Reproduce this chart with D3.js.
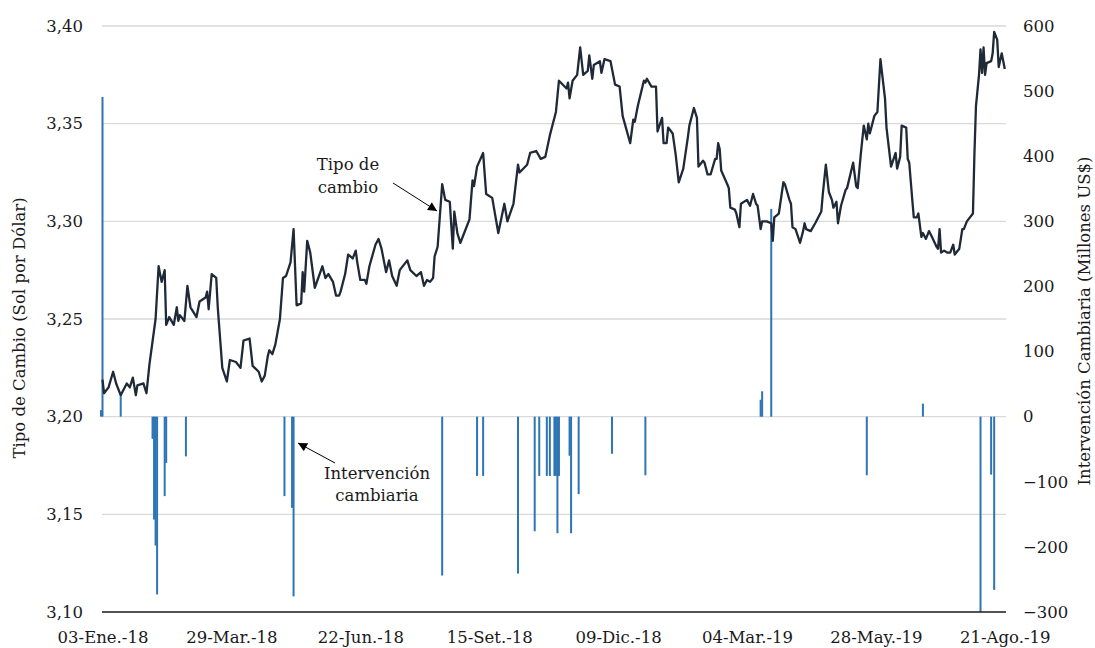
<!DOCTYPE html>
<html>
<head>
<meta charset="utf-8">
<script src="https://cdn.jsdelivr.net/npm/d3@7"></script>
<style>
  body { margin: 0; background: #fff; }
  svg text { font-family: "DejaVu Serif", serif; fill: #1a1a1a; }
</style>
</head>
<body>
<svg width="1095" height="648"></svg>
<script>
// tipo de cambio (S/ por US$)
var fxDates = [
  "2018-01-03","2018-01-04","2018-01-07","2018-01-10","2018-01-12","2018-01-15","2018-01-19","2018-01-21","2018-01-23","2018-01-25",
  "2018-01-26","2018-01-30","2018-02-01","2018-02-03","2018-02-07","2018-02-09","2018-02-11","2018-02-13","2018-02-14","2018-02-16",
  "2018-02-19","2018-02-21","2018-02-22","2018-02-23","2018-02-26","2018-02-28","2018-03-02","2018-03-06","2018-03-08","2018-03-12",
  "2018-03-13","2018-03-14","2018-03-16","2018-03-19","2018-03-20","2018-03-23","2018-03-26","2018-03-28","2018-04-01","2018-04-04",
  "2018-04-06","2018-04-10","2018-04-12","2018-04-16","2018-04-18","2018-04-20","2018-04-22","2018-04-23","2018-04-25","2018-04-27",
  "2018-04-30","2018-05-02","2018-05-04","2018-05-07","2018-05-09","2018-05-11","2018-05-14","2018-05-15","2018-05-16","2018-05-18",
  "2018-05-20","2018-05-23","2018-05-28","2018-05-30","2018-06-01","2018-06-04","2018-06-06","2018-06-08","2018-06-09","2018-06-12",
  "2018-06-14","2018-06-17","2018-06-19","2018-06-20","2018-06-22","2018-06-25","2018-06-26","2018-06-28","2018-07-02","2018-07-04",
  "2018-07-06","2018-07-09","2018-07-11","2018-07-13","2018-07-16","2018-07-18","2018-07-23","2018-07-25","2018-07-29","2018-08-01",
  "2018-08-03","2018-08-05","2018-08-07","2018-08-09","2018-08-10","2018-08-12","2018-08-15","2018-08-17","2018-08-20","2018-08-22",
  "2018-08-23","2018-08-25","2018-08-27","2018-08-29","2018-09-02","2018-09-04","2018-09-05","2018-09-07","2018-09-11","2018-09-13",
  "2018-09-17","2018-09-21","2018-09-25","2018-09-27","2018-10-01","2018-10-04","2018-10-05","2018-10-10","2018-10-12","2018-10-16",
  "2018-10-19","2018-10-22","2018-10-25","2018-10-29","2018-10-31","2018-11-05","2018-11-06","2018-11-07","2018-11-09","2018-11-12",
  "2018-11-14","2018-11-16","2018-11-19","2018-11-20","2018-11-22","2018-11-23","2018-11-27","2018-11-28","2018-11-30","2018-12-04",
  "2018-12-07","2018-12-10","2018-12-12","2018-12-17","2018-12-19","2018-12-20","2018-12-22","2018-12-26","2018-12-27","2018-12-28",
  "2018-12-31","2019-01-03","2019-01-04","2019-01-07","2019-01-08","2019-01-10","2019-01-11","2019-01-14","2019-01-16","2019-01-18",
  "2019-01-21","2019-01-24","2019-01-25","2019-01-28","2019-01-30","2019-01-31","2019-02-03","2019-02-04","2019-02-06","2019-02-08",
  "2019-02-11","2019-02-12","2019-02-13","2019-02-14","2019-02-15","2019-02-19","2019-02-20","2019-02-21","2019-02-24","2019-02-25",
  "2019-02-27","2019-02-28","2019-03-04","2019-03-06","2019-03-08","2019-03-10","2019-03-11","2019-03-13","2019-03-14","2019-03-17",
  "2019-03-20","2019-03-21","2019-03-22","2019-03-25","2019-03-28","2019-03-29","2019-04-01","2019-04-02","2019-04-03","2019-04-05",
  "2019-04-08","2019-04-10","2019-04-11","2019-04-12","2019-04-15","2019-04-18","2019-04-22","2019-04-23","2019-04-25","2019-04-27",
  "2019-04-29","2019-04-30","2019-05-02","2019-05-03","2019-05-05","2019-05-08","2019-05-09","2019-05-13","2019-05-15","2019-05-16",
  "2019-05-18","2019-05-20","2019-05-22","2019-05-23","2019-05-24","2019-05-27","2019-05-29","2019-05-31","2019-06-03","2019-06-04",
  "2019-06-07","2019-06-10","2019-06-11","2019-06-13","2019-06-14","2019-06-17","2019-06-18","2019-06-19","2019-06-21","2019-06-22",
  "2019-06-24","2019-06-25","2019-06-27","2019-06-28","2019-06-30","2019-07-02","2019-07-04","2019-07-07","2019-07-08","2019-07-09",
  "2019-07-10","2019-07-12","2019-07-14","2019-07-16","2019-07-18","2019-07-19","2019-07-22","2019-07-24","2019-07-25","2019-07-27",
  "2019-07-31","2019-08-01","2019-08-02","2019-08-04","2019-08-05","2019-08-06","2019-08-07","2019-08-08","2019-08-09","2019-08-12",
  "2019-08-13","2019-08-14","2019-08-16","2019-08-17","2019-08-19","2019-08-21"
];
var fxValues = [
  3.219,3.212,3.215,3.223,3.217,3.211,3.217,3.215,3.220,3.211,
  3.216,3.217,3.212,3.227,3.250,3.277,3.269,3.275,3.247,3.251,
  3.247,3.256,3.249,3.252,3.249,3.267,3.256,3.251,3.259,3.261,
  3.264,3.255,3.273,3.271,3.256,3.225,3.218,3.229,3.228,3.225,
  3.239,3.240,3.226,3.223,3.218,3.221,3.231,3.234,3.232,3.237,
  3.250,3.271,3.272,3.279,3.296,3.257,3.258,3.274,3.264,3.290,
  3.284,3.266,3.277,3.271,3.273,3.269,3.262,3.262,3.264,3.273,
  3.283,3.281,3.285,3.279,3.270,3.270,3.268,3.277,3.288,3.291,
  3.286,3.274,3.280,3.272,3.267,3.275,3.280,3.275,3.272,3.274,
  3.267,3.270,3.269,3.271,3.282,3.287,3.319,3.311,3.310,3.286,
  3.305,3.294,3.289,3.293,3.301,3.321,3.318,3.328,3.335,3.314,
  3.312,3.294,3.309,3.300,3.309,3.329,3.325,3.329,3.335,3.336,
  3.332,3.333,3.344,3.356,3.372,3.368,3.371,3.363,3.372,3.375,
  3.389,3.375,3.377,3.385,3.373,3.380,3.382,3.376,3.383,3.382,
  3.370,3.369,3.354,3.340,3.352,3.351,3.359,3.372,3.371,3.373,
  3.369,3.369,3.346,3.353,3.340,3.340,3.348,3.345,3.334,3.320,
  3.327,3.343,3.349,3.358,3.353,3.328,3.331,3.330,3.324,3.324,
  3.332,3.332,3.340,3.337,3.326,3.319,3.317,3.307,3.306,3.304,
  3.297,3.309,3.311,3.308,3.314,3.309,3.308,3.296,3.300,3.300,
  3.299,3.290,3.302,3.304,3.320,3.319,3.311,3.309,3.297,3.296,
  3.289,3.295,3.299,3.296,3.295,3.299,3.305,3.314,3.329,3.315,
  3.311,3.307,3.310,3.299,3.308,3.316,3.317,3.330,3.318,3.317,
  3.334,3.349,3.342,3.350,3.345,3.354,3.356,3.383,3.363,3.348,
  3.328,3.335,3.327,3.333,3.349,3.348,3.332,3.330,3.311,3.302,
  3.302,3.304,3.292,3.294,3.291,3.295,3.292,3.287,3.286,3.296,
  3.284,3.285,3.284,3.284,3.288,3.283,3.286,3.296,3.296,3.300,
  3.304,3.335,3.359,3.375,3.388,3.376,3.389,3.375,3.381,3.382,
  3.386,3.397,3.393,3.379,3.386,3.378
];

// intervención cambiaria (millones US$)
var intDates = [
  "2018-01-02","2018-01-03","2018-01-15","2018-02-05","2018-02-06","2018-02-07","2018-02-08","2018-02-13","2018-02-14","2018-02-27",
  "2018-05-03","2018-05-08","2018-05-09","2018-08-15","2018-09-07","2018-09-11","2018-10-04","2018-10-15","2018-10-18","2018-10-23",
  "2018-10-25","2018-10-28","2018-10-29","2018-10-30","2018-10-31","2018-11-07","2018-11-08","2018-11-13","2018-12-05","2018-12-27",
  "2019-03-13","2019-03-14","2019-03-20","2019-05-22","2019-06-28","2019-08-05","2019-08-12","2019-08-14"
];
var intValues = [
  10,491,34,-34,-158,-198,-273,-122,-71,-61,
  -122,-140,-276,-244,-91,-91,-241,-176,-91,-91,
  -91,-91,-91,-179,-91,-60,-179,-119,-57,-90,
  26,39,319,-90,20,-300,-89,-266
];

var tickDates = ["2018-01-03","2018-03-29","2018-06-22","2018-09-15","2018-12-09","2019-03-04","2019-05-28","2019-08-21"];
var tickLabels = ["03-Ene.-18","29-Mar.-18","22-Jun.-18","15-Set.-18","09-Dic.-18","04-Mar.-19","28-May.-19","21-Ago.-19"];
var leftTicks = [3.10, 3.15, 3.20, 3.25, 3.30, 3.35, 3.40];
var rightTicks = [-300, -200, -100, 0, 100, 200, 300, 400, 500, 600];

var parse = d3.timeParse("%Y-%m-%d");
var plotLeft = 102, plotRight = 1006, plotTop = 26, plotBottom = 612;
var fontSize = "16.5px";

var svg = d3.select("svg");

var x = d3.scaleTime()
    .domain([parse("2018-01-03"), parse("2019-08-22")])
    .range([102.5, 1006.3]);
var yL = d3.scaleLinear().domain([3.10, 3.40]).range([plotBottom, plotTop]);
var yR = d3.scaleLinear().domain([-300, 600]).range([plotBottom, plotTop]);

// gridlines
svg.append("g")
  .selectAll("line")
  .data(leftTicks.slice(1))
  .enter()
  .append("line")
    .attr("x1", plotLeft)
    .attr("x2", plotRight)
    .attr("y1", function(d) { return yL(d); })
    .attr("y2", function(d) { return yL(d); })
    .attr("stroke", "#d9d9d9")
    .attr("stroke-width", 1.3);

// bars
svg.append("g")
  .selectAll("rect")
  .data(intDates.map(function(d, i) { return {date: parse(d), value: intValues[i]}; }))
  .enter()
  .append("rect")
    .attr("x", function(d) { return x(d.date) - 1; })
    .attr("width", 2)
    .attr("y", function(d) { return yR(Math.max(0, d.value)); })
    .attr("height", function(d) { return Math.abs(yR(d.value) - yR(0)); })
    .attr("fill", "#2e75b6");

// bottom axis line
svg.append("line")
  .attr("x1", plotLeft).attr("x2", plotRight)
  .attr("y1", plotBottom).attr("y2", plotBottom)
  .attr("stroke", "#1a1a1a")
  .attr("stroke-width", 1.3);

// line
var fx = fxDates.map(function(d, i) { return {date: parse(d), value: fxValues[i]}; });
svg.append("path")
  .datum(fx)
  .attr("fill", "none")
  .attr("stroke", "#1f2937")
  .attr("stroke-width", 2.3)
  .attr("stroke-linejoin", "round")
  .attr("d", d3.line()
    .x(function(d) { return x(d.date); })
    .y(function(d) { return yL(d.value); }));

// axes
var axL = svg.append("g")
  .attr("transform", "translate(" + plotLeft + ",0)")
  .call(d3.axisLeft(yL).tickValues(leftTicks).tickSize(0).tickPadding(19)
    .tickFormat(function(d) { return d3.format(".2f")(d).replace(".", ","); }));
var axR = svg.append("g")
  .attr("transform", "translate(" + plotRight + ",0)")
  .call(d3.axisRight(yR).tickValues(rightTicks).tickSize(0).tickPadding(17));
var axB = svg.append("g")
  .attr("transform", "translate(0," + plotBottom + ")")
  .call(d3.axisBottom(x).tickValues(tickDates.map(parse)).tickSize(0).tickPadding(19)
    .tickFormat(function(d, i) { return tickLabels[i]; }));

[axL, axR, axB].forEach(function(a) {
  a.select(".domain").remove();
  a.selectAll("text")
    .style("font-family", "DejaVu Serif")
    .style("font-size", fontSize)
    .attr("fill", "#1a1a1a");
});

// axis titles
svg.append("text")
  .attr("transform", "translate(25,328) rotate(-90)")
  .attr("text-anchor", "middle")
  .style("font-size", fontSize)
  .text("Tipo de Cambio (Sol por Dólar)");
svg.append("text")
  .attr("transform", "translate(1090,321) rotate(-90)")
  .attr("text-anchor", "middle")
  .style("font-size", fontSize)
  .text("Intervención Cambiaria (Millones US$)");

// annotations
svg.append("defs").append("marker")
  .attr("id", "arrow")
  .attr("viewBox", "0 0 10 10")
  .attr("refX", 10).attr("refY", 5)
  .attr("markerWidth", 10).attr("markerHeight", 9)
  .attr("markerUnits", "userSpaceOnUse")
  .attr("orient", "auto")
  .append("path")
    .attr("d", "M0,0L10,5L0,10Z")
    .attr("fill", "#000");

svg.append("line")
  .attr("x1", 393).attr("y1", 183)
  .attr("x2", 437).attr("y2", 211)
  .attr("stroke", "#000").attr("stroke-width", 1)
  .attr("marker-end", "url(#arrow)");
svg.append("line")
  .attr("x1", 335).attr("y1", 463)
  .attr("x2", 298).attr("y2", 443)
  .attr("stroke", "#000").attr("stroke-width", 1)
  .attr("marker-end", "url(#arrow)");

var note1 = svg.append("text")
  .attr("text-anchor", "middle")
  .style("font-size", fontSize);
note1.append("tspan").attr("x", 348).attr("y", 170).text("Tipo de");
note1.append("tspan").attr("x", 348).attr("y", 193).text("cambio");

var note2 = svg.append("text")
  .attr("text-anchor", "middle")
  .style("font-size", fontSize);
note2.append("tspan").attr("x", 377).attr("y", 479).text("Intervención");
note2.append("tspan").attr("x", 377).attr("y", 501).text("cambiaria");
</script>
</body>
</html>
